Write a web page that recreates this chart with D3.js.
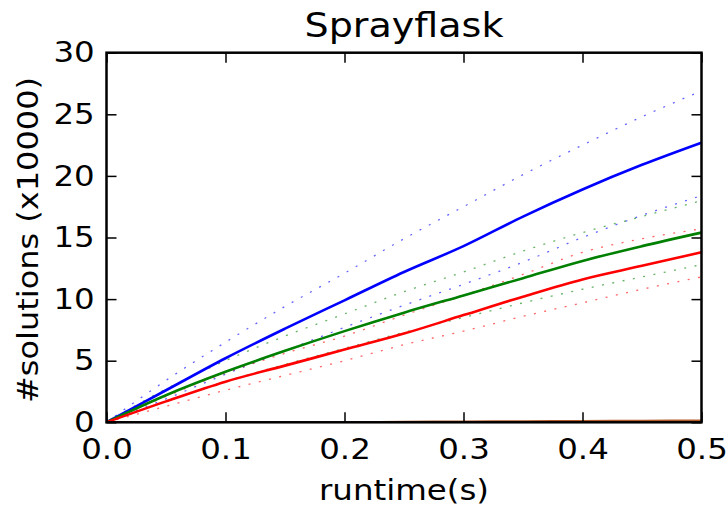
<!DOCTYPE html>
<html>
<head>
<meta charset="utf-8">
<script src="https://cdn.jsdelivr.net/npm/d3@7"></script>
<style>
  body { margin: 0; background: #fff; }
  svg { display: block; font-family: "DejaVu Sans", sans-serif; }
</style>
</head>
<body>
<div id="chart"></div>
<script>
// chart size and plot box
const width = 728
const height = 510
const plotLeft = 106.5, plotRight = 701.5, plotTop = 52.7, plotBottom = 422.3
const stretch = 1.12   // text in the picture is a bit wider than tall

// data, y in units of 10000 solutions
const runtime = [0, 0.05, 0.1, 0.15, 0.2, 0.25, 0.3, 0.35, 0.4, 0.45, 0.5]
const blueMean  = [0, 2.6, 5.2, 7.6, 9.9, 12.2, 14.3, 16.7, 18.9, 20.9, 22.7]
const blueHigh  = [0, 3.4, 6.5, 9.4, 12.1, 14.9, 17.5, 20.1, 22.5, 24.8, 26.9]
const blueLow   = [0, 1.9, 3.9, 5.8, 7.7, 9.5, 11.2, 13.0, 15.0, 16.8, 18.4]
const greenMean = [0, 2.2, 4.1, 5.8, 7.4, 8.9, 10.3, 11.7, 13.1, 14.3, 15.4]
const greenHigh = [0, 2.7, 5.0, 7.0, 8.8, 10.6, 12.2, 13.9, 15.4, 16.7, 18.0]
const greenLow  = [0, 1.7, 3.3, 4.7, 6.0, 7.3, 8.5, 9.7, 10.8, 11.8, 12.8]
const redMean   = [0, 1.7, 3.3, 4.6, 5.9, 7.2, 8.7, 10.2, 11.6, 12.7, 13.8]
const redHigh   = [0, 2.1, 4.0, 5.6, 7.0, 8.7, 10.3, 12.0, 13.8, 14.9, 15.7]
const redLow    = [0, 1.3, 2.6, 3.8, 5.0, 6.3, 7.4, 8.6, 9.7, 10.8, 11.8]
const brownMean = [0, 0, 0, 0, 0, 0.02, 0.05, 0.07, 0.09, 0.11, 0.13]

const xTicks = [0, 0.1, 0.2, 0.3, 0.4, 0.5]
const yTicks = [0, 5, 10, 15, 20, 25, 30]

const dotted = [
  { values: blueHigh, color: "#0000ff" },
  { values: blueLow, color: "#0000ff" },
  { values: greenHigh, color: "#008000" },
  { values: greenLow, color: "#008000" },
  { values: redHigh, color: "#ff0000" },
  { values: redLow, color: "#ff0000" }
]
const solid = [
  { values: blueMean, color: "#0000ff" },
  { values: greenMean, color: "#008000" },
  { values: redMean, color: "#ff0000" },
  { values: brownMean, color: "#b35a2b" }
]

const svg = d3.select("#chart")
  .append("svg")
  .attr("width", width)
  .attr("height", height)

const x = d3.scaleLinear().domain([0, 0.5]).range([plotLeft, plotRight])
const y = d3.scaleLinear().domain([0, 30]).range([plotBottom, plotTop])

svg.append("clipPath").attr("id", "plot-clip")
  .append("rect")
  .attr("x", plotLeft).attr("y", plotTop)
  .attr("width", plotRight - plotLeft).attr("height", plotBottom - plotTop)

const line = d3.line()
  .x((d, i) => x(runtime[i]))
  .y(d => y(d))
  .curve(d3.curveMonotoneX)

const plot = svg.append("g").attr("clip-path", "url(#plot-clip)")

// the spread lines, dotted and faint
plot.selectAll(".spread")
  .data(dotted)
  .join("path")
    .attr("class", "spread")
    .attr("d", d => line(d.values))
    .attr("fill", "none")
    .attr("stroke", d => d.color)
    .attr("stroke-opacity", 0.6)
    .attr("stroke-width", 1.3)
    .attr("stroke-dasharray", "2,8.5")

// the mean lines
plot.selectAll(".mean")
  .data(solid)
  .join("path")
    .attr("class", "mean")
    .attr("d", d => line(d.values))
    .attr("fill", "none")
    .attr("stroke", d => d.color)
    .attr("stroke-width", 2.6)
    .attr("stroke-linejoin", "round")

// axes: ticks point inward on all four sides
function styleAxis(g) {
  g.select(".domain").remove()
  g.selectAll(".tick line").attr("stroke", "#000").attr("stroke-width", 1.5)
  g.selectAll(".tick text")
    .attr("fill", "#000")
    .style("font-size", "29px")
    .style("font-family", "DejaVu Sans, sans-serif")
    .attr("transform", `scale(${stretch},1)`)
}

svg.append("g")
  .attr("transform", `translate(0,${plotBottom})`)
  .call(d3.axisBottom(x).tickValues(xTicks).tickFormat(d3.format(".1f")).tickSize(-10).tickPadding(16))
  .call(styleAxis)

svg.append("g")
  .attr("transform", `translate(${plotLeft},0)`)
  .call(d3.axisLeft(y).tickValues(yTicks).tickFormat(d3.format("d")).tickSize(-10).tickPadding(10.5))
  .call(styleAxis)

svg.append("g")
  .attr("transform", `translate(0,${plotTop})`)
  .call(d3.axisTop(x).tickValues(xTicks).tickFormat("").tickSize(-10))
  .call(styleAxis)

svg.append("g")
  .attr("transform", `translate(${plotRight},0)`)
  .call(d3.axisRight(y).tickValues(yTicks).tickFormat("").tickSize(-10))
  .call(styleAxis)

// frame
svg.append("rect")
  .attr("x", plotLeft).attr("y", plotTop)
  .attr("width", plotRight - plotLeft).attr("height", plotBottom - plotTop)
  .attr("fill", "none")
  .attr("stroke", "#000")
  .attr("stroke-width", 2.5)

// title and axis labels
svg.append("text")
  .attr("transform", `translate(${(plotLeft + plotRight) / 2},37.3) scale(${stretch},1)`)
  .attr("text-anchor", "middle")
  .style("font-size", "34px")
  .text("Sprayflask")

svg.append("text")
  .attr("transform", `translate(${(plotLeft + plotRight) / 2},500) scale(${stretch},1)`)
  .attr("text-anchor", "middle")
  .style("font-size", "29px")
  .text("runtime(s)")

svg.append("text")
  .attr("transform", `translate(38,240) scale(0.88,1) rotate(-90)`)
  .attr("text-anchor", "middle")
  .style("font-size", "32px")
  .text("#solutions (x10000)")
</script>
</body>
</html>
